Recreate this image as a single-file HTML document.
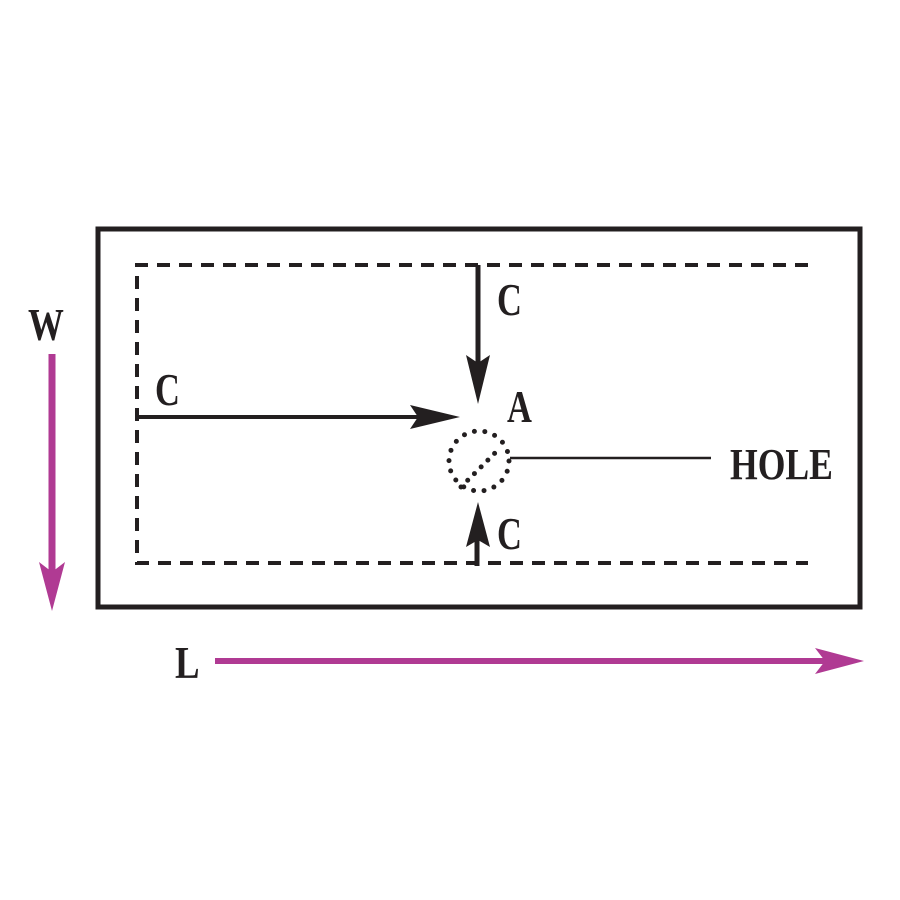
<!DOCTYPE html>
<html><head><style>
html,body{margin:0;padding:0;background:#fff;}
svg{display:block;}
text{font-family:"Liberation Serif",serif;font-weight:bold;fill:#231f20;}
</style></head><body>
<svg width="900" height="900" viewBox="0 0 900 900" xmlns="http://www.w3.org/2000/svg">
<rect x="98" y="229" width="762" height="378" fill="none" stroke="#231f20" stroke-width="5"/>
<path d="M808 265 H137 V563 H808" fill="none" stroke="#231f20" stroke-width="4" stroke-dasharray="13 9"/>
<line x1="137" y1="417" x2="420" y2="417" stroke="#231f20" stroke-width="4"/>
<polygon points="460,417 410,405 418,417 410,429" fill="#231f20"/>
<line x1="478" y1="265" x2="478" y2="365" stroke="#231f20" stroke-width="5"/>
<polygon points="478,404 466,355 478,363 490,355" fill="#231f20"/>
<line x1="477" y1="530" x2="477" y2="566" stroke="#231f20" stroke-width="5"/>
<polygon points="478,502 466,547 478,540 490,547" fill="#231f20"/>
<circle cx="479" cy="461" r="30" fill="none" stroke="#231f20" stroke-width="5" stroke-linecap="round" stroke-dasharray="0 10.5"/>
<line x1="461" y1="487" x2="497" y2="451" stroke="#231f20" stroke-width="5" stroke-linecap="round" stroke-dasharray="0 9.5"/>
<line x1="510" y1="458" x2="711" y2="458" stroke="#231f20" stroke-width="2.5"/>
<text x="497" y="315" font-size="46" transform="translate(497 0) scale(0.75 1) translate(-497 0)">C</text>
<text x="155" y="405" font-size="46" transform="translate(155 0) scale(0.75 1) translate(-155 0)">C</text>
<text x="497" y="549" font-size="46" transform="translate(497 0) scale(0.75 1) translate(-497 0)">C</text>
<text x="507" y="422" font-size="46" transform="translate(507 0) scale(0.75 1) translate(-507 0)">A</text>
<text x="730" y="479" font-size="44" transform="translate(730 0) scale(0.81 1) translate(-730 0)" font-weight="normal">HOLE</text>
<text x="28" y="340" font-size="46" transform="translate(28 0) scale(0.78 1) translate(-28 0)">W</text>
<text x="175" y="678" font-size="46" transform="translate(175 0) scale(0.8 1) translate(-175 0)" font-weight="normal">L</text>
<line x1="52" y1="354" x2="52" y2="575" stroke="#b03a93" stroke-width="7"/>
<polygon points="52,611 39,562 52,572 65,562" fill="#b03a93"/>
<line x1="215" y1="661" x2="830" y2="661" stroke="#b03a93" stroke-width="6"/>
<polygon points="864,661 815,648 825,661 815,674" fill="#b03a93"/>
</svg>
</body></html>
